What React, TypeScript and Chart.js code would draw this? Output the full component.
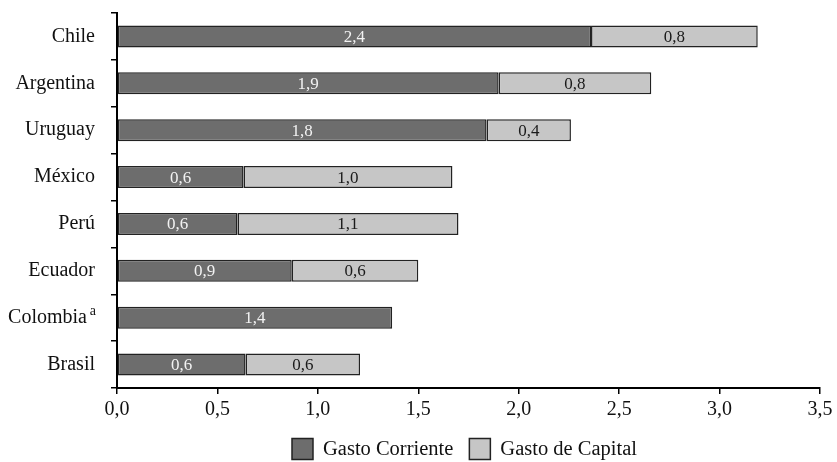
import React, { useEffect, useRef } from "react";
import { Chart, registerables } from "chart.js";

Chart.register(...registerables);

const categories = ["Chile", "Argentina", "Uruguay", "México", "Perú", "Ecuador", "Colombia", "Brasil"];
const footnotes = ["", "", "", "", "", "", "a", ""];
const gastoCorriente = [2.36, 1.9, 1.84, 0.63, 0.6, 0.87, 1.37, 0.64];
const gastoCapital = [0.83, 0.76, 0.42, 1.04, 1.1, 0.63, 0, 0.57];
const xTicks = [0, 0.5, 1, 1.5, 2, 2.5, 3, 3.5];

const DARK = "#6d6d6d";
const LIGHT = "#c6c6c6";
const EDGE = "#222222";
const FONT = "'Liberation Serif', 'Times New Roman', serif";

const fmt = (v: number) => v.toFixed(1).replace(".", ",");

const barLabels = {
  id: "barLabels",
  afterDatasetsDraw(chart: any) {
    const ctx = chart.ctx;
    ctx.save();
    ctx.font = `17px ${FONT}`;
    ctx.textAlign = "center";
    ctx.textBaseline = "middle";
    chart.data.datasets.forEach((ds: any, di: number) => {
      const meta = chart.getDatasetMeta(di);
      meta.data.forEach((el: any, i: number) => {
        const v = ds.data[i];
        if (!v) return;
        const cx = (el.x + el.base) / 2;
        ctx.fillStyle = di === 0 ? "#f2f2f2" : "#1a1a1a";
        ctx.fillText(fmt(v), cx, el.y + 1);
      });
    });
    ctx.restore();
  },
};

const footnoteMarks = {
  id: "footnoteMarks",
  afterDraw(chart: any) {
    const ctx = chart.ctx;
    const y = chart.scales.y;
    ctx.save();
    ctx.font = `14px ${FONT}`;
    ctx.textAlign = "right";
    ctx.textBaseline = "alphabetic";
    ctx.fillStyle = "#111";
    footnotes.forEach((f, i) => {
      if (!f) return;
      const py = y.getPixelForValue(i);
      ctx.fillText(f, y.right - 6 - 16 + 1, py - 3);
    });
    ctx.restore();
  },
};

const customLegend = {
  id: "customLegend",
  afterDraw(chart: any) {
    const ctx = chart.ctx;
    ctx.save();
    ctx.font = `20.5px ${FONT}`;
    ctx.textBaseline = "middle";
    ctx.textAlign = "left";
    const items = chart.data.datasets.map((d: any) => ({ label: d.label, color: d.backgroundColor }));
    const box = 21;
    const gap = 10;
    const spacing = 16;
    const widths = items.map((it: any) => box + gap + ctx.measureText(it.label).width);
    const total = widths.reduce((a: number, b: number) => a + b, 0) + spacing * (items.length - 1);
    let x = (chart.chartArea.left + chart.chartArea.right) / 2 - total / 2 - 4;
    const y = 449;
    items.forEach((it: any, i: number) => {
      ctx.fillStyle = it.color;
      ctx.fillRect(x, y - box / 2, box, box);
      ctx.strokeStyle = EDGE;
      ctx.lineWidth = 1.5;
      ctx.strokeRect(x, y - box / 2, box, box);
      ctx.fillStyle = "#111";
      ctx.fillText(it.label, x + box + gap, y + 1);
      x += widths[i] + spacing;
    });
    ctx.restore();
  },
};

export default function App() {
  const ref = useRef<HTMLCanvasElement>(null);
  useEffect(() => {
    document.body.style.margin = "0";
    const chart = new Chart(ref.current as HTMLCanvasElement, {
      type: "bar",
      data: {
        labels: categories,
        datasets: [
          {
            label: "Gasto Corriente",
            data: gastoCorriente,
            backgroundColor: DARK,
            borderColor: EDGE,
            borderWidth: 1.5,
            borderSkipped: false,
            barPercentage: 0.47,
            categoryPercentage: 1,
          },
          {
            label: "Gasto de Capital",
            data: gastoCapital,
            backgroundColor: LIGHT,
            borderColor: EDGE,
            borderWidth: 1.5,
            borderSkipped: false,
            barPercentage: 0.47,
            categoryPercentage: 1,
          },
        ],
      },
      options: {
        indexAxis: "y",
        responsive: false,
        animation: false,
        layout: { padding: { left: 0, right: 17, top: 13, bottom: 0 } },
        plugins: {
          legend: { display: false },
          tooltip: { enabled: false },
        },
        scales: {
          x: {
            stacked: true,
            min: 0,
            max: 3.5,
            afterBuildTicks(scale: any) {
              scale.ticks = xTicks.map((v) => ({ value: v }));
            },
            afterFit(scale: any) {
              scale.height = 74;
            },
            ticks: {
              callback: (v: any) => fmt(Number(v)),
              font: { family: FONT, size: 20 },
              color: "#111",
              padding: 4,
              maxRotation: 0,
            },
            grid: {
              drawOnChartArea: false,
              drawTicks: true,
              tickLength: 6,
              color: "#000",
              lineWidth: 1.5,
            },
            border: { display: true, color: "#000", width: 2 },
          },
          y: {
            stacked: true,
            afterFit(scale: any) {
              scale.width = 117;
              scale.paddingTop = 0;
              scale.paddingBottom = 0;
            },
            ticks: {
              font: { family: FONT, size: 20 },
              color: "#111",
              padding: 16,
              callback: (_v: any, i: number) => categories[i] + (footnotes[i] ? "\u2009\u2009" : ""),
            },
            grid: {
              offset: true,
              drawOnChartArea: false,
              drawTicks: true,
              tickLength: 6,
              color: "#000",
              lineWidth: 1.5,
            },
            border: { display: true, color: "#000", width: 2 },
          },
        },
      } as any,
      plugins: [barLabels, footnoteMarks, customLegend],
    });
    return () => chart.destroy();
  }, []);
  return (
    <div style={{ width: 837, height: 462 }}>
      <canvas ref={ref} width={837} height={462} style={{ display: "block" }} />
    </div>
  );
}
